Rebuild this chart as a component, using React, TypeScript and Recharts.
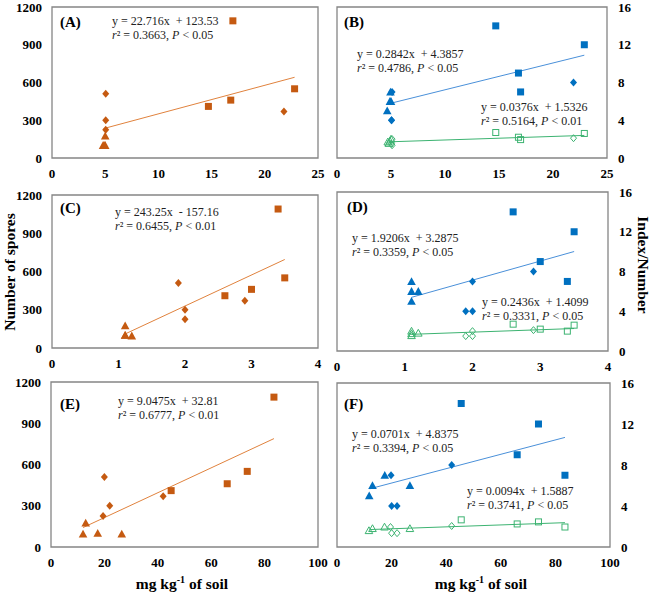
import React from 'react';
import { ScatterChart, Scatter, XAxis, YAxis, ReferenceLine, ReferenceArea } from 'recharts';

// colours
const ORANGE = '#C55A11';
const ORANGE_LINE = '#E0823D';
const BLUE = '#0070C0';
const BLUE_LINE = '#4A90D9';
const GREEN = '#3CB371';

// x ranges / ticks
const X_A = [0, 5, 10, 15, 20, 25];
const X_C = [0, 1, 2, 3, 4];
const X_E = [0, 20, 40, 60, 80, 100];
const Y_SPORES = [0, 300, 600, 900, 1200];
const Y_INDEX = [0, 4, 8, 12, 16];

// (A) spores
const A_SQ = [[14.7, 410], [16.8, 460], [17.0, 1090], [22.8, 550]];
const A_DI = [[5.05, 510], [5.05, 300], [5.05, 225], [21.8, 370]];
const A_TR = [[5.0, 175], [4.8, 100], [4.9, 100], [5.0, 100]];
// (B) index, blue filled / green hollow
const B_SQ = [[14.7, 14], [16.8, 9], [17.0, 7], [22.9, 12]];
const B_DI = [[5.1, 7], [5.05, 4], [5.05, 4], [21.9, 8]];
const B_TR = [[4.95, 7], [4.9, 6], [5.0, 6], [4.65, 5]];
const B_SQ2 = [[14.7, 2.7], [16.8, 2.2], [17.0, 1.95], [22.9, 2.6]];
const B_DI2 = [[5.1, 2.0], [5.05, 1.5], [5.1, 1.35], [21.9, 2.1]];
const B_TR2 = [[4.8, 1.55], [4.9, 1.8], [5.0, 2.0], [4.7, 1.7]];
// (C) spores
const C_SQ = [[2.6, 410], [3.0, 460], [3.4, 1090], [3.5, 550]];
const C_DI = [[1.9, 510], [2.0, 300], [2.0, 225], [2.9, 370]];
const C_TR = [[1.1, 175], [1.1, 100], [1.1, 100], [1.2, 95]];
// (D) index
const D_SQ = [[2.6, 14], [3.0, 9], [3.4, 7], [3.5, 12]];
const D_DI = [[1.9, 4], [2.0, 4], [2.0, 7], [2.9, 8]];
const D_TR = [[1.1, 7], [1.1, 6], [1.2, 6], [1.1, 5]];
const D_SQ2 = [[2.6, 2.7], [3.0, 2.2], [3.4, 2.0], [3.5, 2.6]];
const D_DI2 = [[1.9, 1.5], [2.0, 1.5], [2.0, 2.0], [2.9, 2.1]];
const D_TR2 = [[1.1, 2.0], [1.1, 1.75], [1.2, 1.8], [1.1, 1.55]];
// (E) spores
const E_SQ = [[45, 410], [66, 460], [73.5, 550], [83.5, 1090]];
const E_DI = [[19.5, 225], [20, 510], [22, 300], [42, 370]];
const E_TR = [[12, 95], [13, 175], [17.5, 100], [26.5, 95]];
// (F) index
const F_SQ = [[45.5, 14], [66, 9], [73.8, 12], [83.5, 7]];
const F_DI = [[19.8, 7], [20, 4], [22, 4], [42, 8]];
const F_TR = [[11.8, 5], [13, 6], [17.5, 7], [26.7, 6]];
const F_SQ2 = [[45.5, 2.65], [66, 2.25], [73.8, 2.45], [83.5, 1.95]];
const F_DI2 = [[19.6, 1.95], [20, 1.35], [22, 1.35], [42, 2.05]];
const F_TR2 = [[11.7, 1.6], [13, 1.8], [17.4, 1.95], [26.7, 1.8]];

// regression fits: slope, intercept, x from, x to
const FIT_A = [22.716, 123.53, 4.85, 22.8];
const FIT_B1 = [0.2842, 4.3857, 4.85, 22.9];
const FIT_B2 = [0.0376, 1.5326, 4.8, 22.9];
const FIT_C = [243.25, -157.16, 1.1, 3.5];
const FIT_D1 = [1.9206, 3.2875, 1.1, 3.5];
const FIT_D2 = [0.2436, 1.4099, 1.1, 3.5];
const FIT_E = [9.0475, 32.81, 12, 83.5];
const FIT_F1 = [0.0701, 4.8375, 12, 83.5];
const FIT_F2 = [0.0094, 1.5887, 12, 83.5];

const FONT = '"Liberation Serif", "Times New Roman", serif';

const toPts = (arr: number[][]) => arr.map(([x, y]) => ({ x, y }));

type Kind = 'sq' | 'di' | 'tr';

const makeShape = (kind: Kind, color: string, hollow: boolean) => (props: any) => {
  const { cx, cy } = props;
  const r = hollow ? 3 : 3.5;
  const fill = hollow ? 'none' : color;
  const sw = hollow ? 1 : 0;
  if (kind === 'sq') {
    return <rect x={cx - r} y={cy - r} width={2 * r} height={2 * r} fill={fill} stroke={color} strokeWidth={sw} />;
  }
  if (kind === 'di') {
    const pts = `${cx},${cy - r - 0.5} ${cx + r},${cy} ${cx},${cy + r + 0.5} ${cx - r},${cy}`;
    return <polygon points={pts} fill={fill} stroke={color} strokeWidth={sw} />;
  }
  const pts = `${cx},${cy - r - 0.8} ${cx + r + 0.8},${cy + r} ${cx - r - 0.8},${cy + r}`;
  return <polygon points={pts} fill={fill} stroke={color} strokeWidth={sw} />;
};

interface Group { sq: number[][]; di: number[][]; tr: number[][]; color: string; hollow: boolean }
interface Box { left: number; top: number; w: number; h: number }

const tickStyle = { fontFamily: FONT, fontSize: 13, fontWeight: 'bold', fill: '#000' };

const Panel = ({ box, side, xTicks, yTicks, groups, fits }: {
  box: Box; side: 'left' | 'right'; xTicks: number[]; yTicks: number[];
  groups: Group[]; fits: { fit: number[]; color: string }[];
}) => {
  const xd: [number, number] = [xTicks[0], xTicks[xTicks.length - 1]];
  const yd: [number, number] = [yTicks[0], yTicks[yTicks.length - 1]];
  const margin = side === 'left'
    ? { top: 10, right: 50, bottom: 0, left: 0 }
    : { top: 10, right: 0, bottom: 0, left: 50 };
  return (
    <div style={{ position: 'absolute', left: box.left - 50, top: box.top - 10 }}>
      <ScatterChart width={box.w + 100} height={box.h + 40} margin={margin}>
        <XAxis type="number" dataKey="x" domain={xd} ticks={xTicks} interval={0}
          axisLine={false} tickLine={false} height={30} tickMargin={5} tick={tickStyle} />
        <YAxis type="number" dataKey="y" domain={yd} ticks={yTicks} interval={0}
          orientation={side} axisLine={false} tickLine={false} width={50}
          tickMargin={side === 'left' ? 4 : 5} tick={tickStyle} />
        <ReferenceArea x1={xd[0]} x2={xd[1]} y1={yd[0]} y2={yd[1]} fill="none"
          stroke="#858585" strokeWidth={1.3} fillOpacity={0} />
        {fits.map(({ fit, color }, i) => (
          <ReferenceLine key={`fit-${i}`} stroke={color} strokeWidth={1}
            segment={[{ x: fit[2], y: fit[0] * fit[2] + fit[1] }, { x: fit[3], y: fit[0] * fit[3] + fit[1] }]} />
        ))}
        {groups.flatMap((g, gi) => (['sq', 'di', 'tr'] as Kind[]).map((k) => (
          <Scatter key={`${gi}-${k}`} data={toPts(g[k])} isAnimationActive={false}
            shape={makeShape(k, g.color, g.hollow)} />
        )))}
      </ScatterChart>
    </div>
  );
};

const Eq = ({ left, top, eq, r2, p }: { left: number; top: number; eq: string; r2: string; p: string }) => (
  <div style={{ position: 'absolute', left, top, fontFamily: FONT, fontSize: 12, color: '#222',
    lineHeight: '14px', whiteSpace: 'pre' }}>
    <div>{eq}</div>
    <div><i>r</i>² = {r2}, <i>P</i> &lt; {p}</div>
  </div>
);

const Tag = ({ left, top, text }: { left: number; top: number; text: string }) => (
  <div style={{ position: 'absolute', left, top, fontFamily: FONT, fontSize: 15, fontWeight: 'bold',
    lineHeight: '16px' }}>{text}</div>
);

const titleStyle: React.CSSProperties = {
  position: 'absolute', fontFamily: FONT, fontSize: 15.5, fontWeight: 'bold', whiteSpace: 'nowrap',
  lineHeight: '18px',
};

export default function App() {
  return (
    <div style={{ position: 'absolute', left: 0, top: 0, width: 651, height: 594, background: '#fff', overflow: 'hidden' }}>
      <Panel box={{ left: 52, top: 7, w: 266, h: 151 }} side="left" xTicks={X_A} yTicks={Y_SPORES}
        groups={[{ sq: A_SQ, di: A_DI, tr: A_TR, color: ORANGE, hollow: false }]}
        fits={[{ fit: FIT_A, color: ORANGE_LINE }]} />
      <Panel box={{ left: 337, top: 7, w: 270, h: 151 }} side="right" xTicks={X_A} yTicks={Y_INDEX}
        groups={[{ sq: B_SQ, di: B_DI, tr: B_TR, color: BLUE, hollow: false },
          { sq: B_SQ2, di: B_DI2, tr: B_TR2, color: GREEN, hollow: true }]}
        fits={[{ fit: FIT_B1, color: BLUE_LINE }, { fit: FIT_B2, color: GREEN }]} />
      <Panel box={{ left: 52, top: 195, w: 266, h: 153 }} side="left" xTicks={X_C} yTicks={Y_SPORES}
        groups={[{ sq: C_SQ, di: C_DI, tr: C_TR, color: ORANGE, hollow: false }]}
        fits={[{ fit: FIT_C, color: ORANGE_LINE }]} />
      <Panel box={{ left: 337, top: 192, w: 271, h: 159 }} side="right" xTicks={X_C} yTicks={Y_INDEX}
        groups={[{ sq: D_SQ, di: D_DI, tr: D_TR, color: BLUE, hollow: false },
          { sq: D_SQ2, di: D_DI2, tr: D_TR2, color: GREEN, hollow: true }]}
        fits={[{ fit: FIT_D1, color: BLUE_LINE }, { fit: FIT_D2, color: GREEN }]} />
      <Panel box={{ left: 51, top: 382, w: 267, h: 165 }} side="left" xTicks={X_E} yTicks={Y_SPORES}
        groups={[{ sq: E_SQ, di: E_DI, tr: E_TR, color: ORANGE, hollow: false }]}
        fits={[{ fit: FIT_E, color: ORANGE_LINE }]} />
      <Panel box={{ left: 337, top: 383, w: 273, h: 164 }} side="right" xTicks={X_E} yTicks={Y_INDEX}
        groups={[{ sq: F_SQ, di: F_DI, tr: F_TR, color: BLUE, hollow: false },
          { sq: F_SQ2, di: F_DI2, tr: F_TR2, color: GREEN, hollow: true }]}
        fits={[{ fit: FIT_F1, color: BLUE_LINE }, { fit: FIT_F2, color: GREEN }]} />

      <Tag left={60} top={14} text="(A)" />
      <Tag left={344} top={14} text="(B)" />
      <Tag left={60} top={200} text="(C)" />
      <Tag left={347} top={199} text="(D)" />
      <Tag left={60} top={396} text="(E)" />
      <Tag left={344} top={396} text="(F)" />

      <Eq left={112} top={14} eq="y = 22.716x  + 123.53" r2="0.3663" p="0.05" />
      <Eq left={357} top={47} eq="y = 0.2842x  + 4.3857" r2="0.4786" p="0.05" />
      <Eq left={481} top={100} eq="y = 0.0376x  + 1.5326" r2="0.5164" p="0.01" />
      <Eq left={115} top={205} eq="y = 243.25x  - 157.16" r2="0.6455" p="0.01" />
      <Eq left={352} top={231} eq="y = 1.9206x  + 3.2875" r2="0.3359" p="0.05" />
      <Eq left={482} top={295} eq="y = 0.2436x  + 1.4099" r2="0.3331" p="0.05" />
      <Eq left={118} top={394} eq="y = 9.0475x  + 32.81" r2="0.6777" p="0.01" />
      <Eq left={352} top={427} eq="y = 0.0701x  + 4.8375" r2="0.3394" p="0.05" />
      <Eq left={467} top={484} eq="y = 0.0094x  + 1.5887" r2="0.3741" p="0.05" />

      <div style={{ ...titleStyle, left: 10, top: 272, transform: 'translate(-50%, -50%) rotate(-90deg)' }}>
        Number of spores
      </div>
      <div style={{ ...titleStyle, left: 643, top: 265, transform: 'translate(-50%, -50%) rotate(90deg)' }}>
        Index/Number
      </div>
      <div style={{ ...titleStyle, left: 182, top: 582, transform: 'translate(-50%, -50%)' }}>
        mg kg<sup style={{ fontSize: 10 }}>-1</sup> of soil
      </div>
      <div style={{ ...titleStyle, left: 481, top: 582, transform: 'translate(-50%, -50%)' }}>
        mg kg<sup style={{ fontSize: 10 }}>-1</sup> of soil
      </div>
    </div>
  );
}
